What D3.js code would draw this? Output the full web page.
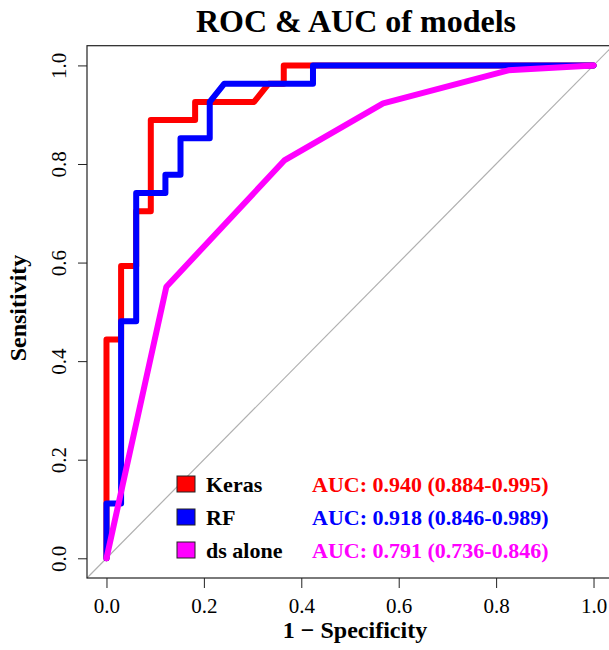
<!DOCTYPE html>
<html>
<head>
<meta charset="utf-8">
<script src="https://cdnjs.cloudflare.com/ajax/libs/d3/7.8.5/d3.min.js"></script>
<style>
  body { margin: 0; background: #fff; }
  svg { display: block; }
  svg text { font-family: "Liberation Serif", "Times New Roman", serif; }
</style>
</head>
<body>
<div id="main"></div>
<script>
// ROC points (false positive rate, true positive rate)
var kerasFpr = [0, 0, 0.030, 0.030, 0.061, 0.061, 0.091, 0.091, 0.182, 0.182, 0.303, 0.333, 0.364, 0.364, 1];
var kerasTpr = [0, 0.444, 0.444, 0.593, 0.593, 0.704, 0.704, 0.889, 0.889, 0.926, 0.926, 0.963, 0.963, 1, 1];

var rfFpr = [0, 0, 0.030, 0.030, 0.061, 0.061, 0.121, 0.121, 0.152, 0.152, 0.212, 0.212, 0.242, 0.424, 0.424, 1];
var rfTpr = [0, 0.111, 0.111, 0.481, 0.481, 0.741, 0.741, 0.778, 0.778, 0.852, 0.852, 0.926, 0.963, 0.963, 1, 1];

var dsFpr = [0, 0.123, 0.366, 0.568, 0.825, 1];
var dsTpr = [0, 0.551, 0.808, 0.923, 0.990, 1];

var modelNames = ['Keras', 'RF', 'ds alone'];
var modelColors = ['#ff0000', '#0000ff', '#ff00ff'];
var aucLabels = [
  'AUC: 0.940 (0.884-0.995)',
  'AUC: 0.918 (0.846-0.989)',
  'AUC: 0.791 (0.736-0.846)'
];
var tickValues = [0, 0.2, 0.4, 0.6, 0.8, 1.0];

var SERIF = '"Liberation Serif", "Times New Roman", serif';


function Sketch() {
  this.width = 609;
  this.height = 650;
  this.box = {left: 87, top: 45.7, right: 613, bottom: 578};
}

Sketch.prototype.init = function() {
  this.svg = d3.select('#main')
    .append('svg')
    .attr('width', this.width)
    .attr('height', this.height);

  this.x = d3.scaleLinear().domain([-0.04, 1.04]).range([this.box.left, this.box.right]);
  this.y = d3.scaleLinear().domain([-0.04, 1.04]).range([this.box.bottom, this.box.top]);
};

Sketch.prototype.update = function() {
  function zip(xs, ys) {
    return xs.map(function(v, i) { return [v, ys[i]]; });
  }
  this.data = [
    zip(kerasFpr, kerasTpr),
    zip(rfFpr, rfTpr),
    zip(dsFpr, dsTpr)
  ];
};

Sketch.prototype.render = function() {
  var x = this.x, y = this.y, svg = this.svg, b = this.box;

  // diagonal reference line
  svg.append('line')
    .attr('x1', x(-0.04)).attr('y1', y(-0.04))
    .attr('x2', x(1.04)).attr('y2', y(1.04))
    .attr('stroke', '#b0b0b0')
    .attr('stroke-width', 1.2);

  // curves
  var line = d3.line()
    .x(function(d) { return x(d[0]); })
    .y(function(d) { return y(d[1]); });

  svg.append('g').selectAll('path')
    .data(this.data)
    .enter()
    .append('path')
    .attr('d', line)
    .attr('fill', 'none')
    .attr('stroke', function(d, i) { return modelColors[i]; })
    .attr('stroke-width', 6)
    .attr('stroke-linejoin', 'round')
    .attr('stroke-linecap', 'round');

  // box
  svg.append('rect')
    .attr('x', b.left).attr('y', b.top)
    .attr('width', b.right - b.left).attr('height', b.bottom - b.top)
    .attr('fill', 'none')
    .attr('stroke', '#222')
    .attr('stroke-width', 1.2);

  // axes
  var fmt = d3.format('.1f');
  var gx = svg.append('g')
    .attr('transform', 'translate(0,' + b.bottom + ')')
    .call(d3.axisBottom(x).tickValues(tickValues).tickFormat(fmt).tickSize(10));
  gx.select('.domain').remove();
  gx.attr('font-family', SERIF).attr('font-size', 21);
  gx.selectAll('line').attr('stroke', '#222');
  gx.selectAll('text')
    .attr('y', 35).attr('dy', null)
    .style('font-family', SERIF)
    .style('font-size', '21px')
    .attr('fill', '#000');

  var gy = svg.append('g')
    .attr('transform', 'translate(' + b.left + ',0)')
    .call(d3.axisLeft(y).tickValues(tickValues).tickFormat(fmt).tickSize(9));
  gy.select('.domain').remove();
  gy.attr('font-family', SERIF).attr('font-size', 21);
  gy.selectAll('line').attr('stroke', '#222');
  gy.selectAll('text')
    .attr('x', null).attr('dy', null)
    .attr('transform', 'translate(-21,0) rotate(-90)')
    .attr('text-anchor', 'middle')
    .style('font-family', SERIF)
    .style('font-size', '21px')
    .attr('fill', '#000');

  // titles
  svg.append('text')
    .attr('x', 356).attr('y', 32)
    .attr('text-anchor', 'middle')
    .attr('font-weight', 'bold')
    .attr('font-size', 32)
    .text('ROC & AUC of models');

  svg.append('text')
    .attr('x', 355).attr('y', 638)
    .attr('text-anchor', 'middle')
    .attr('font-weight', 'bold')
    .attr('font-size', 24)
    .text('1 \u2212 Specificity');

  svg.append('text')
    .attr('transform', 'translate(26,308) rotate(-90)')
    .attr('text-anchor', 'middle')
    .attr('font-weight', 'bold')
    .attr('font-size', 24)
    .text('Sensitivity');

  // legend
  var leg = svg.append('g').selectAll('g')
    .data(modelNames)
    .enter()
    .append('g')
    .attr('transform', function(d, i) { return 'translate(0,' + (492 + i * 33) + ')'; });

  leg.append('rect')
    .attr('x', 177).attr('y', -16)
    .attr('width', 18).attr('height', 16)
    .attr('fill', function(d, i) { return modelColors[i]; })
    .attr('stroke', '#222')
    .attr('stroke-width', 1);

  leg.append('text')
    .attr('x', 206)
    .attr('font-weight', 'bold')
    .attr('font-size', 22)
    .text(function(d) { return d; });

  leg.append('text')
    .attr('x', 312)
    .attr('font-weight', 'bold')
    .attr('font-size', 22)
    .attr('fill', function(d, i) { return modelColors[i]; })
    .text(function(d, i) { return aucLabels[i]; });
};


document.addEventListener('DOMContentLoaded', function() {
  var s = new Sketch();
  s.init();
  s.update();
  s.render();
});
</script>
</body>
</html>
